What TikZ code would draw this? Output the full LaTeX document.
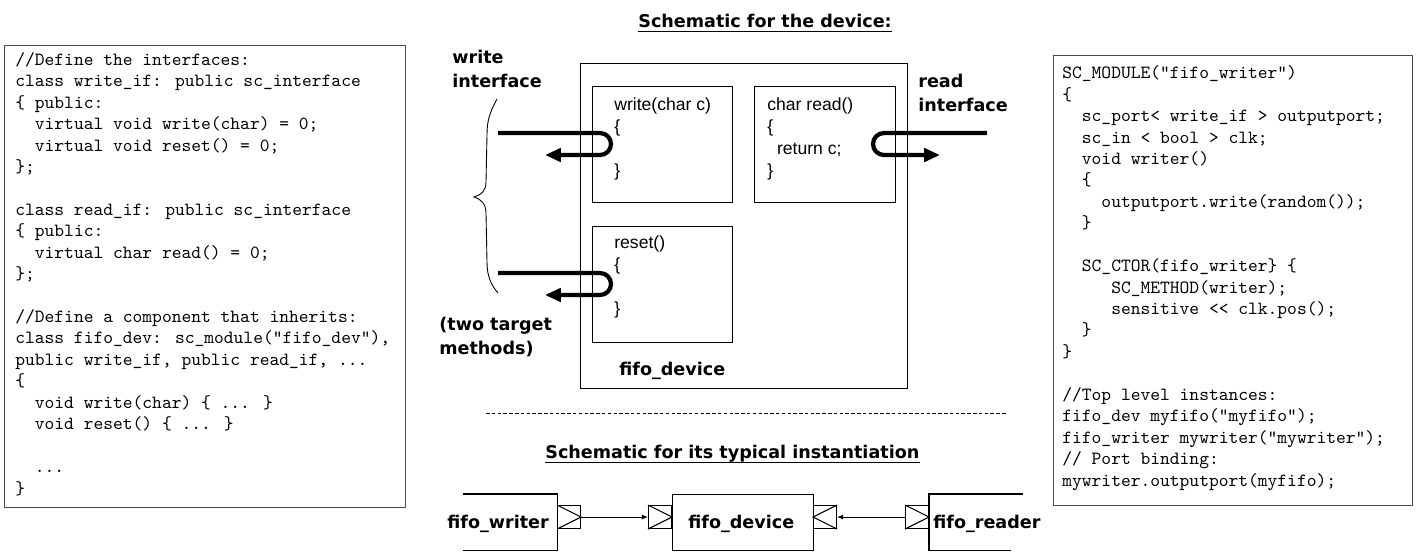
\documentclass[tikz,border=0pt]{standalone}
\usepackage{fontspec}
\usetikzlibrary{arrows.meta, positioning}
\newfontfamily\labelfont{DejaVu Sans}
\newfontfamily\methodfont{Liberation Sans}

\begin{document}
\begin{tikzpicture}[
  x=0.02cm, y=-0.02cm,
  % multi-line nodes are placed by the baseline of their last line
  code/.style={font=\fontsize{10.6}{12.2}\selectfont\ttfamily, align=left,
               inner sep=0pt, anchor=base west},
  frame/.style={draw=black!70, line width=0.8pt, inner sep=0pt, anchor=north west},
  lab/.style={font=\labelfont\bfseries\fontsize{10}{13.6}\selectfont, align=left,
              inner sep=0pt, anchor=base west},
  meth/.style={font=\methodfont\fontsize{10}{12.5}\selectfont, align=left,
               inner sep=0pt, anchor=base west},
  box/.style={draw, line width=0.6pt, inner sep=0pt, anchor=north west},
  call/.style={line width=2.4pt, rounded corners=0.22cm,
               -{Triangle[length=9pt,width=7.5pt]}},
  port/.style={draw, line width=0.6pt, inner sep=0pt,
               minimum width=0.46cm, minimum height=0.46cm},
  bind/.style={line width=0.6pt, -{Latex[length=3.5pt,width=3pt]}}
]
\useasboundingbox (0,0) rectangle (1419,552);

%% Left code panel: the interfaces
\node[frame, minimum width=8.02cm, minimum height=9.24cm] (ifframe) at (4,45) {};
\node[code] (ifcode) at (15,494) {//Define the interfaces:\\
class write\_if: public sc\_interface\\
\{ public:\\
~~virtual void write(char) = 0;\\
~~virtual void reset() = 0;\\
\};\\
\\
class read\_if: public sc\_interface\\
\{ public:\\
~~virtual char read() = 0;\\
\};\\
\\
//Define a component that inherits:\\
class fifo\_dev: sc\_module("fifo\_dev"),\\
public write\_if, public read\_if, ...\\
\{\\
~~void write(char) \{ ... \}\\
~~void reset() \{ ... \}\\
\\
~~...\\
\}};

%% Right code panel: the writer module
\node[frame, minimum width=7.18cm, minimum height=9.0cm] (wrframe) at (1053,55) {};
\node[code] (wrcode) at (1062,486) {SC\_MODULE("fifo\_writer")\\
\{\\
~~sc\_port< write\_if > outputport;\\
~~sc\_in < bool > clk;\\
~~void writer()\\
~~\{\\
~~~~outputport.write(random());\\
~~\}\\
\\
~~SC\_CTOR(fifo\_writer\} \{\\
~~~~~SC\_METHOD(writer);\\
~~~~~sensitive << clk.pos();\\
~~\}\\
\}\\
\\
//Top level instances:\\
fifo\_dev myfifo("myfifo");\\
fifo\_writer mywriter("mywriter");\\
// Port binding:\\
mywriter.outputport(myfifo);};

%% Device schematic
\node[lab] (ttldev) at (638,27) {Schematic for the device:};
\draw[line width=0.6pt] ([yshift=-2.5pt]ttldev.base west) -- ([yshift=-2.5pt]ttldev.base east);

\node[box, minimum width=6.54cm, minimum height=6.5cm] (dev) at (580,63) {};
\node[box, minimum width=2.8cm,  minimum height=2.32cm] (wrbox) at (592,86) {};
\node[box, minimum width=2.82cm, minimum height=2.32cm] (rdbox) at (754,86) {};
\node[box, minimum width=2.8cm,  minimum height=2.32cm] (rsbox) at (592,226) {};

\node[meth] (wrtxt) at (614,176) {write(char c)\\\{\\ \\\}};
\node[meth] (rdtxt) at (767,176) {char read()\\\{\\~~return c;\\\}};
\node[meth] (rstxt) at (614,314) {reset()\\\{\\ \\\}};
\node[lab]  (devtxt) at (619,375) {fifo\_device};

\node[lab] (wrif) at (452,87) {write\\interface};
\node[lab] (rdif) at (918,111) {read\\interface};
\node[lab] (twotgt) at (439,354) {(two target\\methods)};

%% Interface calls (U-turns into the methods)
\coordinate (wrin)  at (498,133);
\coordinate (wrout) at (545,155);
\coordinate (rsin)  at (498,273);
\coordinate (rsout) at (545,295);
\coordinate (rdin)  at (987,133);
\coordinate (rdout) at (940,155);
\draw[call] (wrin) -- ++(113,0) -- ++(0,22) -- (wrout);
\draw[call] (rsin) -- ++(113,0) -- ++(0,22) -- (rsout);
\draw[call] (rdin) -- ++(-114,0) -- ++(0,22) -- (rdout);

%% Brace grouping the two write-side calls
\draw[line width=0.5pt] (497,99) .. controls (490,112) and (487,120) .. (487,135)
  -- (486,182) .. controls (486,191) and (481,195) .. (474,197)
  .. controls (481,199) and (486,204) .. (486,213)
  -- (487,262) .. controls (487,276) and (491,285) .. (498,293);

%% Separator
\draw[line width=0.5pt, dash pattern=on 2pt off 1.3pt] (486,413) -- (1007,413);

%% Instantiation schematic
\node[lab] (ttlinst) at (545,458) {Schematic for its typical instantiation};
\draw[line width=0.6pt] ([yshift=-2.5pt]ttlinst.base west) -- ([yshift=-2.5pt]ttlinst.base east);

\node[inner sep=0pt, minimum width=1.88cm, minimum height=1.12cm, anchor=north west] (writer) at (463,494) {};
\draw[line width=0.6pt] (writer.north west) -- (writer.north east) -- (writer.south east) -- (writer.south west);
\node[lab] (writertxt) at (447,528) {fifo\_writer};

\node[box, minimum width=2.82cm, minimum height=1.12cm] (device) at (672,494) {};
\node[lab] (devicetxt) at (688,528) {fifo\_device};

\node[inner sep=0pt, minimum width=1.86cm, minimum height=1.12cm, anchor=north west] (reader) at (929,494) {};
\draw[line width=0.6pt] (reader.north east) -- (reader.north west) -- (reader.south west) -- ([xshift=-0.24cm]reader.south east);
\node[lab] (readertxt) at (933,528) {fifo\_reader};

%% Ports
\node[port, anchor=north west] (wport)    at (557,505) {};
\node[port, anchor=north east] (dinport)  at (672,505) {};
\node[port, anchor=north west] (doutport) at (813,505) {};
\node[port, anchor=north east] (rport)    at (929,505) {};
\draw[line width=0.6pt] (wport.north west) -- (wport.east) -- (wport.south west);
\draw[line width=0.6pt] (dinport.north west) -- (dinport.east) -- (dinport.south west);
\draw[line width=0.6pt] (doutport.north east) -- (doutport.west) -- (doutport.south east);
\draw[line width=0.6pt] (rport.north west) -- (rport.east) -- (rport.south west);

%% Port bindings
\draw[bind] (wport.east) -- (dinport.west);
\draw[bind] (rport.west) -- (doutport.east);
\end{tikzpicture}
\end{document}
